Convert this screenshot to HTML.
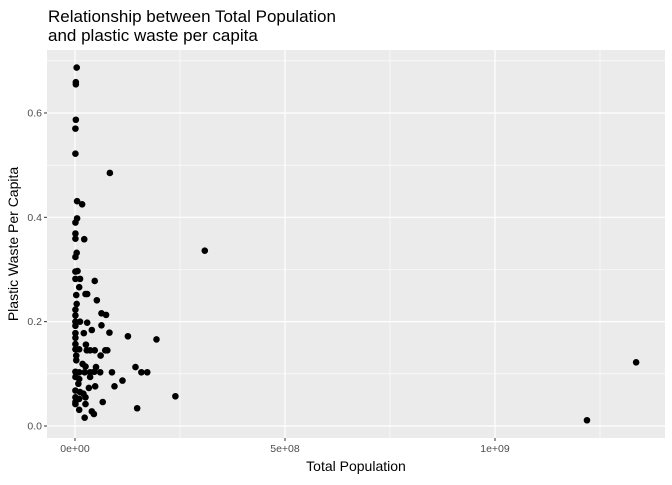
<!DOCTYPE html>
<html><head><meta charset="utf-8"><style>
body{margin:0;background:#fff;}
svg text{font-family:"Liberation Sans",Arial,sans-serif;}
</style></head><body>
<svg id="chart" width="672" height="480">
<text x="48" y="22" font-size="17" fill="#000">Relationship between Total Population</text>
<text x="48" y="41" font-size="17" fill="#000">and plastic waste per capita</text>
<rect x="47" y="50" width="618" height="388" fill="#ebebeb"/>
<g id="grid"></g>
<g id="points"></g>
<g id="axes"></g>
<text x="356" y="471" font-size="14" text-anchor="middle" fill="#000">Total Population</text>
<text transform="translate(18,244) rotate(-90)" font-size="14" text-anchor="middle" fill="#000">Plastic Waste Per Capita</text>
</svg>
<script>
const popMillions=[4,2,2,2,1,1,83,5,17,5,1,1,1,22,309,4,1,6,1,1,12,47,10,3,25,29,52,4,1,63,74,1,12,1,29,1,63,40,1,21,82,126,194,1,26,1,1,10,28,36,47,72,77,61,3,3,18,25,50,144,158,172,1,10,23,36,46,60,88,1,10,36,113,8,33,48,94,1,12,20,239,1,10,25,1,25,66,148,1,10,40,45,23,1219,1336];
const wastePerCapita=[.687,.659,.655,.587,.570,.522,.485,.431,.425,.398,.390,.369,.359,.358,.336,.332,.324,.297,.296,.282,.282,.278,.266,.251,.253,.253,.241,.234,.223,.216,.213,.212,.200,.200,.198,.192,.193,.184,.178,.178,.179,.172,.166,.169,.156,.157,.147,.147,.145,.145,.145,.145,.145,.135,.135,.126,.119,.114,.113,.113,.103,.103,.104,.103,.103,.103,.104,.103,.103,.094,.090,.094,.087,.081,.073,.076,.076,.068,.065,.062,.057,.055,.052,.055,.046,.042,.046,.034,.042,.031,.028,.023,.016,.011,.122];
const xTicks=[0,500,1000];
const xTickLabels=["0e+00","5e+08","1e+09"];
const xMinor=[250,750,1250];
const yTicks=[0,0.2,0.4,0.6];
const yTickLabels=["0.0","0.2","0.4","0.6"];
const yMinor=[0.1,0.3,0.5,0.7];
const NS="http://www.w3.org/2000/svg";
const L=47,R=665,T=50,B=438;
function xs(v){return 75+v*0.42;}
function ys(v){return 426-v*521.7;}
function mk(tag,attrs,parent){const e=document.createElementNS(NS,tag);for(const k in attrs)e.setAttribute(k,attrs[k]);document.getElementById(parent).appendChild(e);return e;}
xMinor.forEach(v=>{const e=mk('line',{x1:xs(v),x2:xs(v),y1:T,y2:B,stroke:'#fff','stroke-width':0.6},'grid');

});
yMinor.forEach(v=>{const e=mk('line',{x1:L,x2:R,y1:ys(v),y2:ys(v),stroke:'#fff','stroke-width':0.6},'grid');

});
xTicks.forEach((v,i)=>{const e=mk('line',{x1:xs(v),x2:xs(v),y1:T,y2:B,stroke:'#fff','stroke-width':1.2},'grid');


const t=mk('line',{x1:xs(v),x2:xs(v),y1:B,y2:B+3,stroke:'#333','stroke-width':1},'axes');


const l=mk('text',{x:xs(v),y:B+14,'font-size':10.5,'text-anchor':'middle',fill:'#4d4d4d'},'axes');l.textContent=xTickLabels[i];

});
yTicks.forEach((v,i)=>{const e=mk('line',{x1:L,x2:R,y1:ys(v),y2:ys(v),stroke:'#fff','stroke-width':1.2},'grid');


const t=mk('line',{x1:L-3,x2:L,y1:ys(v),y2:ys(v),stroke:'#333','stroke-width':1},'axes');


const l=mk('text',{x:L-5,y:ys(v)+3.5,'font-size':10.5,'text-anchor':'end',fill:'#4d4d4d'},'axes');l.textContent=yTickLabels[i];

});
popMillions.forEach((p,i)=>{const c=mk('circle',{cx:xs(p),cy:ys(wastePerCapita[i]),r:3.3,fill:'#000'},'points');

});
</script>
</body></html>
